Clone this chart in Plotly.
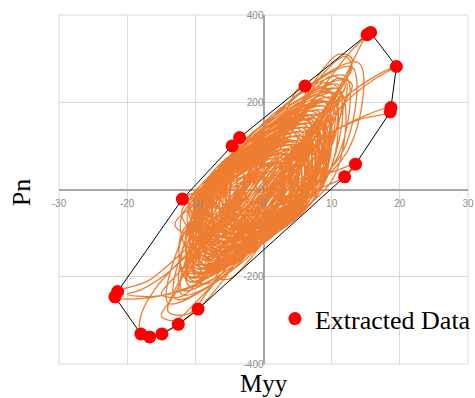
import plotly.graph_objects as go

# Extracted (hull) points
ex_x = [15.2, 15.7, 19.5, 18.7, 18.6, 13.5, 11.9, 6.1, -3.5, -4.6, -11.9, -21.4, -21.8, -18.0, -16.7, -14.9, -12.5, -9.6]
ex_y = [355, 360, 282, 188, 178, 58, 29, 237, 119, 100, -22, -234, -246, -331, -338, -331, -309, -274]

# Orange trajectory (Myy, Pn) - hand-estimated turning points, in drawing order
traj_core = [
    (0,0),(3,60),(5,120),(3,140),(0,90),(-3,20),(-6,-60),(-8,-120),(-6,-140),(-3,-90),(0,-20),(3,40),(6,110),(8,170),(6,180),(3,130),(-1,50),(-4,-30),(-7,-100),(-10,-160),(-8,-175),(-5,-120),(-1,-40),(2,30),(5,100),(7,150),(4,160),(1,100),(-2,30),(-5,-50),(-8,-130),(-6,-150),(-3,-100),(1,-10),(4,70),(8,150),(10,200),(8,215),(5,160),(1,80),(-3,-10),(-6,-80),(-10,-150),(-12,-190),(-9,-200),(-5,-140),(-2,-60),(2,20),(6,110),(9,180),(11,230),(9,245),(5,190),(2,110),(-2,20),(-5,-60),(-9,-140),(-11,-200),(-8,-215),(-4,-150),(0,-60),
]
traj_center = [
    (-7,-140),(-3,-50),(1,30),(4,90),(2,80),(-1,10),(-4,-60),(-6,-100),(-3,-70),(0,-10),(3,50),(5,80),(2,40),(-2,-30),(-5,-90),(-8,-130),(-5,-110),(-2,-40),(1,10),(4,60),(6,100),(3,90),(0,30),(-3,-30),(-6,-80),(-4,-90),(-1,-40),(2,0),(5,50),(3,60),(0,10),(-3,-50),(-7,-110),(-5,-120),(-2,-60),(1,-10),(4,40),(7,90),(5,100),(1,50),(-2,-10),(-5,-60),(-8,-100),(-6,-110),(-3,-60),(0,-20),(3,20),(6,70),(4,80),(1,40),(-1,-20),(-4,-70),(-3,-80),(0,-30),(2,20),(5,70),(3,80),(-1,20),(-4,-40),(-7,-90),(-5,-100),(-2,-50),(1,0),(4,30),(6,60),(3,70),(0,20),(-2,-30),(-5,-80),(-3,-90),(0,-50),(3,0),(5,40),(2,50),(-1,0),(-3,-40),(-6,-70),(-4,-80),(-1,-30),(2,10),(4,50),(1,60),(-2,10),(-4,-30),(-2,-50),(1,-20),(3,30),(0,40),(-2,0),
]
traj_loops = [
    (-6,-120),(7,-10),(7,150),(-6,30),
    (-9,-170),(4,-60),(9,190),(-7,20),
    (-5,-100),(9,20),(10,220),(-3.5,90),
    (-11,-210),(0,-110),(6,140),(-10,-10),
    (-7,-150),(8,-10),(8,170),(-8.5,0),
    (-10,-190),(3,-70),(11,240),(-5,70),
    (-4,-80),(10,50),(12,260),(-2,120),
    (-12,-230),(-2,-140),(5,110),(-11,-40),
    (-8,-160),(5.5,-40),(7,160),(-9.5,-10),
    (-6,-130),(8,0),(9,200),(-6,50),
    (-13,-250),(-3,-160),(4,90),(-12,-60),
    (-9,-180),(6.5,-30),(10,200),(-7.5,20),
    (-3,-60),(11,70),(13,280),(0,140),
    (-10,-200),(2,-90),(8,180),(-8.5,0),
    (-7,-140),(4,-50),(6,130),(-7,20),
    (-11,-220),(-0.5,-120),(7,150),(-11,-30),
    (-5,-110),(10,20),(11,230),(-4,90),
    (-8,-170),(2,-80),(5,110),(-9,-30),
    (-14,-260),(-4,-170),(3,60),(-13,-80),
    (-6,-120),(8,-10),(9,190),(-5.5,60),
    (-9,-190),(4,-60),(12,250),(-6,50),
    (-4,-90),(7,0),(8,160),(-5,50),
    (-10,-200),(-1.5,-130),(4,100),(-10,-40),
    (-7,-150),(8,-10),(11,220),(-7.5,30),
    (-12,-240),(0,-120),(9,170),(-10,-20),
    (-5,-100),(5,-20),(6,120),(-6,30),
    (-8,-180),(4,-60),(10,210),(-8.5,10),
    (-3,-70),(12,80),(14,290),(1,160),
    (-11,-200),(-1.5,-130),(3,70),(-12,-50),
    (-6,-140),(7,-30),(9,180),(-7,40),
]
traj_loops2 = [
    (-7,-130),(-8,-20),(5,120),(6,0),
    (-5,-90),(-6,20),(7,150),(8,30),
    (-9,-160),(-9,-50),(4,100),(5,-40),
    (-4,-70),(-4,60),(8,180),(9,60),
    (-8,-140),(-10,-60),(3,80),(4,-50),
    (-6,-110),(-7,10),(6,140),(7,10),
    (-10,-180),(-11,-90),(2,60),(2,-80),
    (-3,-50),(-3,80),(9,200),(9,80),
    (-7,-120),(-8,-10),(5,130),(6,-10),
    (-5,-100),(-5,30),(7,160),(7,20),
    (-11,-200),(-12,-100),(1,40),(0,-100),
    (-4,-80),(-4,50),(8,170),(8,40),
    (-8,-150),(-9,-30),(4,110),(5,-30),
    (-6,-100),(-6,20),(6,140),(7,0),
    (-9,-170),(-10,-70),(3,90),(3,-60),
    (-2,-40),(-2,90),(10,210),(10,100),
    (-7,-130),(-8,-20),(5,130),(6,-10),
    (-5,-110),(-6,10),(6,150),(6,0),
    (-10,-190),(-11,-80),(2,70),(1,-90),
    (-3,-60),(-3,70),(9,190),(9,70),
    (-6,-120),(-7,0),(5,140),(6,-10),
    (-8,-150),(-9,-40),(4,100),(4,-40),
    (-4,-80),(-5,40),(7,170),(8,40),
    (-7,-140),(-8,-30),(5,120),(5,-20),
    (-5,-90),(-6,20),(6,140),(7,20),
    (-9,-160),(-10,-60),(3,80),(3,-60),
    (-2,-30),(-2,100),(11,230),(10,110),
    (-6,-120),(-7,0),(5,130),(6,-10),
    (-11,-210),(-12,-110),(0,30),(-1,-110),
    (-4,-70),(-5,50),(7,160),(8,50),
]
traj_loops3 = [
    (-8,-150),(6,-40),(5,110),(-9,-10),
    (-6,-120),(7,-10),(6,130),(-8,10),
    (-9,-170),(4,-60),(4,90),(-10,-30),
    (-7,-130),(6,-30),(5,100),(-9,0),
    (-5,-100),(7,0),(7,140),(-7,30),
    (-10,-180),(3,-80),(3,70),(-11,-40),
    (-6,-110),(5,-20),(6,120),(-8,20),
    (-8,-160),(5,-50),(5,100),(-10,-20),
    (-4,-80),(8,20),(8,150),(-6,40),
    (-9,-150),(4,-60),(4,80),(-10,-30),
    (-7,-140),(6,-30),(6,120),(-9,0),
    (-5,-90),(7,10),(7,140),(-7,30),
    (-11,-190),(2,-90),(2,60),(-11,-50),
    (-6,-120),(6,-20),(6,120),(-8,10),
    (-8,-140),(5,-40),(5,100),(-9,-10),
    (-3,-60),(8,30),(9,170),(-5,60),
    (-7,-130),(5,-40),(5,110),(-9,0),
    (-10,-170),(3,-70),(3,80),(-11,-30),
    (-5,-100),(6,-10),(7,130),(-7,30),
    (-8,-150),(4,-50),(4,90),(-10,-20),
    (-6,-110),(7,-20),(6,120),(-8,10),
    (-4,-70),(8,20),(8,160),(-6,50),
    (-9,-160),(4,-60),(4,90),(-10,-30),
    (-7,-120),(6,-30),(6,110),(-9,0),
]
traj_excursions = [
    (4,50),(8,150),(12,260),(15.2,355),(15.7,360),(13,320),(9,240),(5,150),(1,60),(-3,-30),(-7,-110),(-10,-170),(-7,-185),(-3,-120),(1,-30),(5,60),
    (8,130),(10,190),(8,205),(4,140),(0,60),(-4,-30),(-8,-110),(-11,-170),(-9,-190),(-5,-140),(-2,-70),(2,10),(5,80),(9,170),(12,240),(10,260),(6,200),(2,110),(-2,30),(-6,-60),(-9,-130),(-13,-200),(-15,-240),(-12,-245),(-8,-180),(-4,-100),(0,-20),(3,50),(6,120),(10,210),(13,280),(12,305),(9,270),(6,200),(3,120),(-1,40),(-4,-40),(-7,-110),(-9,-170),(-7,-180),(-3,-120),(1,-40),(4,40),(7,110),
    (12,200),(16,250),(19.5,282),(17,265),(11,200),(6,120),(2,40),(-2,-50),(-5,-110),(-8,-160),(-6,-170),(-2,-110),(2,-20),(5,50),(9,120),(14,160),(18.6,178),(18.7,188),(15,170),(9,120),(4,50),(0,-20),(-4,-100),(-7,-150),(-5,-160),(-1,-90),(3,-10),(6,30),(10,40),(13.5,58),(11.9,29),(8,0),(4,-40),(0,-100),(-4,-160),(-7,-200),(-5,-205),(-1,-140),(3,-50),(5,20),(6,80),(7,140),(6,190),(6.1,237),(5,230),(3,170),(0,90),(-3,10),(-6,-70),(-9,-140),(-12,-190),(-10,-200),(-6,-150),(-2,-60),(2,20),
    (-1,40),(-5,-20),(-9,-100),(-13,-160),(-17,-210),(-21.4,-234),(-21.8,-246),(-18,-250),(-12,-230),(-7,-190),(-3,-120),(0,-40),(3,40),(6,110),(8,170),(6,180),(2,110),(-2,30),(-6,-50),(-10,-130),(-14,-190),(-18,-230),(-20,-240),(-16,-245),(-10,-220),(-6,-170),(-3,-100),(1,-10),(4,70),(7,150),(5,165),(1,100),(-3,20),
    (-7,-80),(-12,-160),(-16,-230),(-18,-290),(-18,-331),(-16.7,-338),(-14.9,-331),(-12.5,-309),(-9.6,-274),(-6,-210),(-2,-120),(2,-30),(5,50),(8,130),(10,190),(8,200),(4,140),(0,60),(-4,-20),(-8,-100),(-11,-170),(-13,-240),(-15,-290),(-13,-300),(-10,-260),(-6,-190),(-2,-100),(2,-10),(5,70),(8,140),(11,210),(9,225),(5,160),(1,80),(-3,0),(-7,-80),(-10,-150),(-13,-230),(-14,-280),(-11,-285),(-8,-230),(-4,-150),(0,-60),(4,30),
    (0,60),(-3,40),(-7,10),(-11.9,-22),(-10,-40),(-6,-60),(-2,-40),(1,20),(2,80),(0,100),(-3.5,119),(-4.6,100),(-3,60),(-1,0),(-3,-60),(-6,-130),(-8,-170),(-6,-180),(-2,-120),(2,-40),(5,40),(8,110),(11,180),(13,240),(11,255),(7,200),(3,120),(-1,40),(-5,-40),(-8,-110),(-11,-180),(-9,-195),(-5,-140),(-1,-60),(3,20),(6,90),(9,170),(12,250),(13,300),(11,310),(8,260),(5,180),(2,100),(-2,20),(-6,-60),(-9,-130),(-7,-150),(-3,-100),(1,-20),(4,60),(7,140),(10,220),(8,235),(4,170),(0,80),(-4,0),(-7,-70),(-10,-140),(-8,-155),(-4,-100),(0,-30),(3,40),(5,100),(3,115),(0,60),(-3,-10),(-5,-70),(-3,-90),(0,-40),(2,10),(0,0),
]
traj = traj_core + traj_center + traj_loops + traj_loops2 + traj_loops3 + traj_excursions
traj_x = [p[0] for p in traj]
traj_y = [p[1] for p in traj]

x_ticks = [-30, -20, -10, 0, 10, 20, 30]
y_ticks = [-400, -200, 0, 200, 400]


def convex_hull(xs, ys):
    pts = sorted(set(zip(xs, ys)))

    def cross(o, a, b):
        return (a[0] - o[0]) * (b[1] - o[1]) - (a[1] - o[1]) * (b[0] - o[0])

    lower, upper = [], []
    for p in pts:
        while len(lower) >= 2 and cross(lower[-2], lower[-1], p) <= 0:
            lower.pop()
        lower.append(p)
    for p in reversed(pts):
        while len(upper) >= 2 and cross(upper[-2], upper[-1], p) <= 0:
            upper.pop()
        upper.append(p)
    hull = lower[:-1] + upper[:-1]
    hull.append(hull[0])
    return [p[0] for p in hull], [p[1] for p in hull]


hx, hy = convex_hull(ex_x, ex_y)

fig = go.Figure()
fig.add_trace(go.Scatter(x=traj_x, y=traj_y, mode="lines",
                         line=dict(color="#ED7D31", width=1.3, shape="spline", smoothing=1.0),
                         showlegend=False, hoverinfo="skip"))
fig.add_trace(go.Scatter(x=hx, y=hy, mode="lines", line=dict(color="black", width=1),
                         showlegend=False, hoverinfo="skip"))
fig.add_trace(go.Scatter(x=ex_x, y=ex_y, mode="markers", name="Extracted Data",
                         marker=dict(color="#FF0000", size=13)))

fig.update_layout(
    width=475, height=398,
    margin=dict(l=59, r=7, t=15, b=34, autoexpand=False),
    paper_bgcolor="white", plot_bgcolor="white",
    xaxis=dict(range=[-30, 30], tickvals=x_ticks, ticktext=[str(v) for v in x_ticks],
               showgrid=True, gridcolor="#d9d9d9", gridwidth=1,
               zeroline=True, zerolinecolor="#a6a6a6", zerolinewidth=2,
               anchor="free", position=0.5, ticks="", showline=False, ticklabelstandoff=6,
               tickfont=dict(family="Liberation Sans", size=10, color="#8c8c8c")),
    yaxis=dict(range=[-400, 400], tickvals=y_ticks, ticktext=[str(v) for v in y_ticks],
               showgrid=True, gridcolor="#d9d9d9", gridwidth=1,
               zeroline=True, zerolinecolor="#a6a6a6", zerolinewidth=2,
               anchor="free", position=0.5, ticks="", showline=False,
               tickfont=dict(family="Liberation Sans", size=10, color="#8c8c8c")),
    legend=dict(x=0.528, y=0.13, xanchor="left", yanchor="middle",
                font=dict(family="Liberation Serif", size=26, color="black"),
                bgcolor="rgba(0,0,0,0)"),
    shapes=[dict(type="rect", xref="paper", yref="paper", x0=0, y0=0, x1=1, y1=1,
                 line=dict(color="#d9d9d9", width=1), layer="below")],
    annotations=[
        dict(text="Pn", xref="paper", yref="paper", x=-0.09, y=0.49, showarrow=False,
             xanchor="center", yanchor="middle",
             textangle=-90, font=dict(family="Liberation Serif", size=26, color="black")),
        dict(text="Myy", xref="paper", yref="paper", x=0.5, y=-0.055, showarrow=False,
             xanchor="center", yanchor="middle",
             font=dict(family="Liberation Serif", size=25, color="black")),
    ],
)

fig.write_html("out.html")
